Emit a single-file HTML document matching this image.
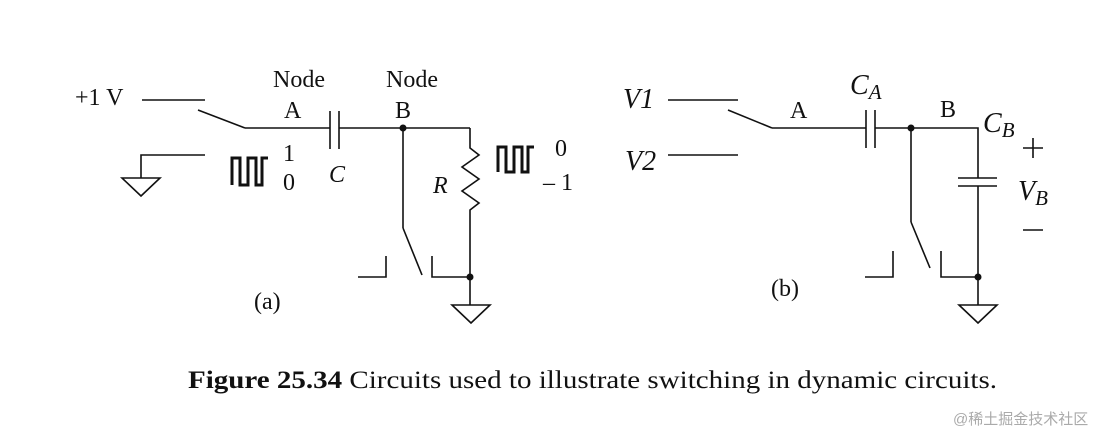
<!DOCTYPE html>
<html><head><meta charset="utf-8"><style>
body{margin:0;background:#fff;}
svg text{font-family:"Liberation Serif",serif;fill:#111;}
</style></head><body>
<svg width="1119" height="436" viewBox="0 0 1119 436" xmlns="http://www.w3.org/2000/svg">
<g stroke="#111" stroke-width="1.6" fill="none">
<line x1="142" y1="100" x2="205" y2="100"/>
<line x1="198" y1="110" x2="245" y2="128"/>
<line x1="245" y1="128" x2="330" y2="128"/>
<line x1="330" y1="111" x2="330" y2="149"/>
<line x1="339" y1="111" x2="339" y2="149"/>
<line x1="339" y1="128" x2="470" y2="128"/>
<polyline points="205,155 141,155 141,178"/>
<polygon points="122,178 160,178 141,196"/>
<polyline stroke-width="3" points="232,185 232,158 240,158 240,185 248,185 248,158 256,158 256,185 262,185 262,158 268,158"/>
<polyline points="470,128 470,148 479,155 462,167 479,179 462,191 479,203 470,210 470,305"/>
<polygon points="452,305 490,305 471,323"/>
<line x1="403" y1="128" x2="403" y2="228"/>
<line x1="403" y1="228" x2="422" y2="275"/>
<polyline points="358,277 386,277 386,256"/>
<polyline points="432,256 432,277 470,277"/>
<polyline stroke-width="3" points="498,172 498,147 506,147 506,172 514,172 514,147 522,147 522,172 528,172 528,147 534,147"/>
<line x1="668" y1="100" x2="738" y2="100"/>
<line x1="668" y1="155" x2="738" y2="155"/>
<line x1="728" y1="110" x2="772" y2="128"/>
<line x1="772" y1="128" x2="866" y2="128"/>
<line x1="866" y1="110" x2="866" y2="148"/>
<line x1="875" y1="110" x2="875" y2="148"/>
<polyline points="875,128 978,128 978,178"/>
<line x1="958" y1="178" x2="997" y2="178"/>
<line x1="958" y1="186" x2="997" y2="186"/>
<line x1="978" y1="186" x2="978" y2="305"/>
<polygon points="959,305 997,305 978,323"/>
<line x1="911" y1="128" x2="911" y2="222"/>
<line x1="911" y1="222" x2="930" y2="268"/>
<polyline points="865,277 893,277 893,251"/>
<polyline points="941,251 941,277 978,277"/>
<line x1="1023" y1="148" x2="1043" y2="148"/>
<line x1="1033" y1="138" x2="1033" y2="158"/>
<line x1="1023" y1="230" x2="1043" y2="230"/>
</g>
<g fill="#111">
<circle cx="403" cy="128" r="3.5"/><circle cx="470" cy="277" r="3.5"/>
<circle cx="911" cy="128" r="3.5"/><circle cx="978" cy="277" r="3.5"/>
</g>
<g font-size="24">
<text x="75" y="105">+1 V</text>
<text x="273" y="87">Node</text>
<text x="284" y="118">A</text>
<text x="386" y="87">Node</text>
<text x="395" y="118">B</text>
<text x="283" y="161">1</text>
<text x="283" y="190">0</text>
<text x="329" y="182" font-style="italic">C</text>
<text x="433" y="193" font-style="italic">R</text>
<text x="555" y="156">0</text>
<text x="543" y="190">– 1</text>
<text x="254" y="309">(a)</text>
<text x="790" y="118">A</text>
<text x="940" y="117">B</text>
<text x="771" y="296">(b)</text>
</g>
<g font-size="28" font-style="italic">
<text x="623" y="108">V1</text>
<text x="625" y="170">V2</text>
<text x="850" y="94">C<tspan font-size="21" dy="5">A</tspan></text>
<text x="983" y="132">C<tspan font-size="21" dy="5">B</tspan></text>
<text x="1018" y="200">V<tspan font-size="21" dy="5">B</tspan></text>
</g>
<text x="188" y="388" font-size="25" textLength="809" lengthAdjust="spacingAndGlyphs"><tspan font-weight="bold">Figure 25.34</tspan>  Circuits used to illustrate switching in dynamic circuits.</text>
<text x="953" y="424" font-size="15" style="fill:#aaa;font-family:'Liberation Sans','Noto Sans CJK SC',sans-serif">@稀土掘金技术社区</text>
</svg>
</body></html>
